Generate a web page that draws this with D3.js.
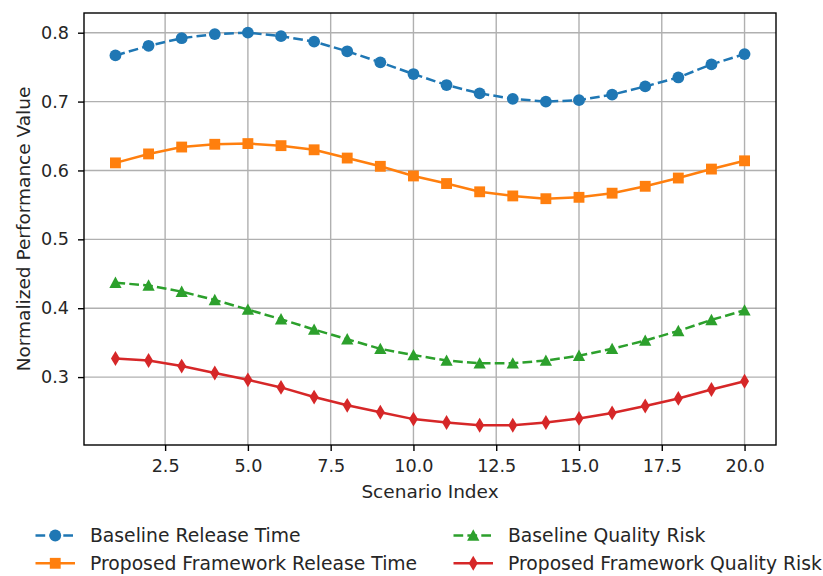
<!DOCTYPE html>
<html><head><meta charset="utf-8">
<script src="https://cdn.jsdelivr.net/npm/d3@7"></script>
<style>body{margin:0;background:#fff}svg text{font-family:"DejaVu Sans",sans-serif;fill:#262626}</style>
</head><body><svg id="c" width="823" height="576"></svg>
<script>
const scenarios = d3.range(1, 21);
const baselineRelease = [0.767,0.781,0.792,0.798,0.800,0.795,0.787,0.773,0.757,0.740,0.724,0.712,0.704,0.700,0.702,0.710,0.722,0.735,0.754,0.769];
const proposedRelease = [0.611,0.624,0.634,0.638,0.639,0.636,0.630,0.618,0.606,0.592,0.581,0.569,0.563,0.559,0.561,0.567,0.577,0.589,0.602,0.614];
const baselineRisk = [0.437,0.433,0.424,0.412,0.398,0.384,0.369,0.355,0.341,0.332,0.324,0.320,0.320,0.324,0.331,0.341,0.353,0.367,0.383,0.397];
const proposedRisk = [0.327,0.324,0.316,0.306,0.296,0.285,0.271,0.259,0.249,0.239,0.234,0.230,0.230,0.234,0.240,0.248,0.258,0.269,0.282,0.294];
const seriesNames = ["Baseline Release Time","Proposed Framework Release Time","Baseline Quality Risk","Proposed Framework Quality Risk"];
const xTicks = [2.5,5.0,7.5,10.0,12.5,15.0,17.5,20.0];
const yTicks = [0.3,0.4,0.5,0.6,0.7,0.8];

const svg = d3.select("#c");
const L = 84, R = 776, T = 13, B = 445;
const x = d3.scaleLinear().domain([0.05, 20.95]).range([L, R]);
const y = d3.scaleLinear().domain([0.2014, 0.8286]).range([B, T]);

// grid
const g = svg.append("g");
g.selectAll(".gx").data(xTicks).enter().append("line")
  .attr("x1", d => x(d)).attr("x2", d => x(d)).attr("y1", T).attr("y2", B)
  .attr("stroke", "#b0b0b0").attr("stroke-width", 1.4);
g.selectAll(".gy").data(yTicks).enter().append("line")
  .attr("x1", L).attr("x2", R).attr("y1", d => y(d)).attr("y2", d => y(d))
  .attr("stroke", "#b0b0b0").attr("stroke-width", 1.4);

// axes
const xAxis = d3.axisBottom(x).tickValues(xTicks).tickFormat(d3.format(".1f")).tickSize(6).tickPadding(9);
const yAxis = d3.axisLeft(y).tickValues(yTicks).tickFormat(d3.format(".1f")).tickSize(6).tickPadding(9);
const ax = svg.append("g").attr("transform", `translate(0,${B})`).call(xAxis);
const ay = svg.append("g").attr("transform", `translate(${L},0)`).call(yAxis);
[ax, ay].forEach(a => {
  a.select(".domain").remove();
  a.selectAll("line").attr("stroke", "#000").attr("stroke-width", 1.4);
  a.selectAll("text").style("font-size", "17.6px").attr("fill", "#262626");
});
svg.append("rect").attr("x", L).attr("y", T).attr("width", R - L).attr("height", B - T)
  .attr("fill", "none").attr("stroke", "#000").attr("stroke-width", 1.4);

svg.append("text").attr("x", (L + R) / 2).attr("y", 498).attr("text-anchor", "middle")
  .style("font-size", "18.5px").text("Scenario Index");
svg.append("text").attr("transform", `translate(29.5,${(T + B) / 2}) rotate(-90)`).attr("text-anchor", "middle")
  .style("font-size", "18.5px").text("Normalized Performance Value");

// marker shapes
const shapes = {
  circle: (p, s) => { p.moveTo(s * 0.5, 0); p.arc(0, 0, s * 0.5, 0, 2 * Math.PI); },
  square: (p, s) => { const h = s * 0.46; p.rect(-h, -h, 2 * h, 2 * h); },
  triangle: (p, s) => { const h = s * 0.52; p.moveTo(0, -h); p.lineTo(h, h * 0.85); p.lineTo(-h, h * 0.85); p.closePath(); },
  diamond: (p, s) => { const h = s * 0.63, w = s * 0.38; p.moveTo(0, -h); p.lineTo(w, 0); p.lineTo(0, h); p.lineTo(-w, 0); p.closePath(); }
};
function shapePath(kind, s) { const p = d3.path(); shapes[kind](p, s); return p.toString(); }

const DASH = "9.7,4.2";
const series = [
  {name: seriesNames[0], vals: baselineRelease, color: "#1f77b4", dash: DASH, marker: "circle"},
  {name: seriesNames[1], vals: proposedRelease, color: "#ff7f0e", dash: null, marker: "square"},
  {name: seriesNames[2], vals: baselineRisk, color: "#2ca02c", dash: DASH, marker: "triangle"},
  {name: seriesNames[3], vals: proposedRisk, color: "#d62728", dash: null, marker: "diamond"}
];
const line = d3.line().x((d, i) => x(scenarios[i])).y(d => y(d));
const MS = 11.8;
series.forEach(s => {
  svg.append("path").attr("d", line(s.vals)).attr("fill", "none").attr("stroke", s.color)
    .attr("stroke-width", 2.5).attr("stroke-dasharray", s.dash);
  svg.selectAll(null).data(s.vals).enter().append("path")
    .attr("d", shapePath(s.marker, MS))
    .attr("transform", (d, i) => `translate(${x(scenarios[i])},${y(d)})`)
    .attr("fill", s.color);
});

// legend
const legPos = [[35.5, 535.5], [35.5, 563.3], [453.5, 535.5], [453.5, 563.3]];
series.forEach((s, i) => {
  const [lx, ly] = legPos[i];
  const lg = svg.append("g");
  lg.append("line").attr("x1", lx).attr("x2", lx + 39.5).attr("y1", ly).attr("y2", ly)
    .attr("stroke", s.color).attr("stroke-width", 2.5).attr("stroke-dasharray", s.dash);
  lg.append("path").attr("d", shapePath(s.marker, MS)).attr("transform", `translate(${lx + 19.75},${ly})`).attr("fill", s.color);
  lg.append("text").attr("x", lx + 54.5).attr("y", ly + 6.5).style("font-size", "18.75px").text(s.name);
});
</script></body></html>
